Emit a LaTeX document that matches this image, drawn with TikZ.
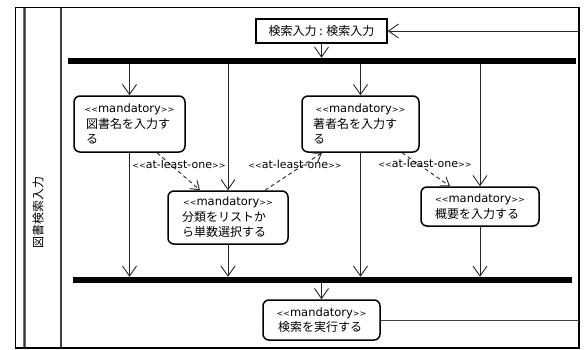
\documentclass[tikz,border=0pt]{standalone}
\usepackage{fontspec}
\setmainfont{Noto Sans CJK JP}
\newfontfamily\lat{DejaVu Sans}
\usetikzlibrary{arrows.meta}
\newcommand\angs[1]{{\fontsize{8}{9}\selectfont #1}}
\newcommand\stereo[1]{{\lat\fontsize{11.5}{14}\selectfont\angs{<\kern0pt<}#1\angs{>\kern0pt>}}}
\tikzset{
  act/.style={draw, line width=1.5pt, rounded corners=6pt, align=left, inner ysep=0pt,
    font=\fontsize{12}{15.5}\selectfont},
  topbox/.style={draw, line width=1.5pt, inner sep=0pt, font=\fontsize{12}{14}\selectfont},
  bar/.style={fill=black, inner sep=0pt, minimum height=6pt},
  flow/.style={line width=0.9pt, draw=black!85, -{Straight Barb[length=10pt,width=14pt]}},
  plain/.style={line width=0.9pt, draw=black!75},
  dep/.style={line width=0.9pt, draw=black!85, dash pattern=on 4pt off 3pt,
    -{Straight Barb[length=8pt,width=11pt]}},
  lbl/.style={font=\lat\fontsize{11}{13}\selectfont, inner sep=0pt},
}
\begin{document}
\begin{tikzpicture}[x=1pt,y=-1pt]
\useasboundingbox (0,0) rectangle (584,349);
% swimlane frame
\draw[line width=3pt, draw=black!55] (24,7) -- (24,348);
\draw[line width=1pt, draw=black!80] (24,7) -- (24,348);
\draw[line width=2.5pt, draw=black!75] (61,7) -- (61,348);
\draw[line width=1.6pt] (15.5,7.5) rectangle (579,348);
\node[rotate=90, font=\fontsize{12}{14}\selectfont] (lane) at (38,212) {図書検索入力};
% nodes
\node[topbox, minimum width=131pt, minimum height=24pt] (top) at (321.5,31) {検索入力 : 検索入力};
\node[bar, minimum width=508pt] (fork) at (322,61) {};
\node[bar, minimum width=499pt] (join) at (322.5,280) {};
\node[act, inner xsep=12pt, text width=87pt, minimum height=56pt] (n1) at (129.5,124)
  {\makebox[\linewidth]{\stereo{mandatory}}\\ 図書名を入力す\\る};
\node[act, inner xsep=11pt, text width=95pt, minimum height=56pt] (n2) at (360.5,124)
  {\makebox[\linewidth]{\stereo{mandatory}}\\ 著者名を入力す\\る};
\node[act, inner xsep=14pt, text width=92pt, minimum height=53pt] (n3) at (228,217.5)
  {\makebox[\linewidth]{\stereo{mandatory}}\\ 分類をリストか\\ら単数選択する};
\node[act, inner xsep=14pt, text width=90pt, minimum height=39pt] (n4) at (480,206.5)
  {\makebox[\linewidth]{\stereo{mandatory}}\\ 概要を入力する};
\node[act, inner xsep=15pt, text width=87pt, minimum height=40pt] (n5) at (321.5,320)
  {\makebox[\linewidth]{\stereo{mandatory}}\\ 検索を実行する};
% free ends on the frame
\coordinate (rin) at (579,31);
\coordinate (rout) at (579,320);
% control flow
\draw[flow] (rin) -- (top.east);
\draw[flow] (top.south) -- (top.south |- fork.north);
\draw[flow] (fork.south -| n1.north) -- (n1.north);
\draw[flow] (fork.south -| n3.north) -- (n3.north);
\draw[flow] (fork.south -| n2.north) -- (n2.north);
\draw[flow] (fork.south -| n4.north) -- (n4.north);
\draw[flow] (n1.south) -- (n1.south |- join.north);
\draw[flow] (n3.south) -- (n3.south |- join.north);
\draw[flow] (n2.south) -- (n2.south |- join.north);
\draw[flow] (n4.south) -- (n4.south |- join.north);
\draw[flow] (join.south -| n5.north) -- (n5.north);
\draw[plain] (n5.east) -- (rout);
% at-least-one dependencies
\draw[dep] ([xshift=27.5pt]n1.south) -- ([xshift=-28pt]n3.north);
\draw[dep] ([xshift=37pt]n3.north) -- ([xshift=-38.5pt]n2.south);
\draw[dep] ([xshift=41.5pt]n2.south) -- ([xshift=-30pt]n4.north);
\node[lbl] (l1) at (179,164) {\angs{<\kern0pt<}at-least-one\angs{>\kern0pt>}};
\node[lbl] (l2) at (295,164) {\angs{<\kern0pt<}at-least-one\angs{>\kern0pt>}};
\node[lbl] (l3) at (425,163) {\angs{<\kern0pt<}at-least-one\angs{>\kern0pt>}};
\end{tikzpicture}
\end{document}
